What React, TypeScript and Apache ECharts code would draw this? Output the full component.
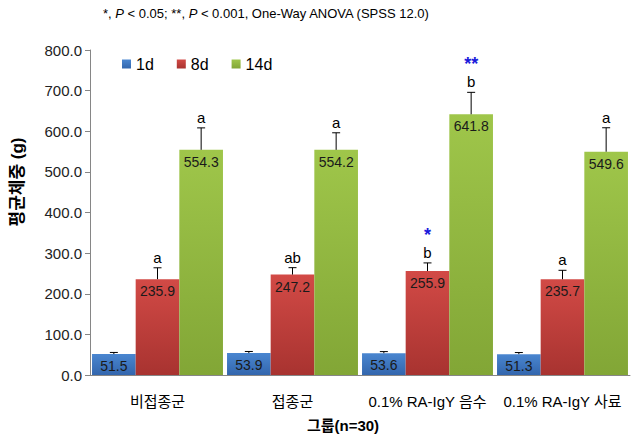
import React, { useEffect, useRef } from "react";
import * as echarts from "echarts";

const categories = ["비접종군", "접종군", "0.1% RA-IgY 음수", "0.1% RA-IgY 사료"];
const seriesNames = ["1d", "8d", "14d"];
const values1d = [51.5, 53.9, 53.6, 51.3];
const values8d = [235.9, 247.2, 255.9, 235.7];
const values14d = [554.3, 554.2, 641.8, 549.6];
const sd1d = [4, 4, 4, 4];
const sd8d = [28, 17, 20, 22];
const sd14d = [54, 42, 54, 59];
const letters1d = ["", "", "", ""];
const letters8d = ["a", "ab", "b", "a"];
const letters14d = ["a", "a", "b", "a"];
const stars1d = ["", "", "", ""];
const stars8d = ["", "", "*", ""];
const stars14d = ["", "", "**", ""];
const yTicks = [0, 100, 200, 300, 400, 500, 600, 700, 800];

const FONT = "'Liberation Sans', Arial, 'Noto Sans CJK KR', sans-serif";
const KFONT = "'Liberation Sans', 'Noto Sans CJK KR', sans-serif";

const colorsTop = ["#4a86d0", "#d24a46", "#9fc64a"];
const colorsBot = ["#3366ad", "#a83330", "#82a636"];

export default function App() {
  const ref = useRef<HTMLDivElement>(null);
  useEffect(() => {
    if (!ref.current) return;
    const chart = echarts.init(ref.current, undefined, { renderer: "svg" });
    const vals = [values1d, values8d, values14d];
    const sds = [sd1d, sd8d, sd14d];
    const lets = [letters1d, letters8d, letters14d];
    const stars = [stars1d, stars8d, stars14d];

    const barSeries = seriesNames.map((name, i) => ({
      name,
      type: "bar",
      data: vals[i],
      barGap: "0%",
      barCategoryGap: "3%",
      itemStyle: {
        color: new echarts.graphic.LinearGradient(0, 0, 0, 1, [
          { offset: 0, color: colorsTop[i] },
          { offset: 1, color: colorsBot[i] },
        ]),
      },
      label: {
        show: true,
        position: "insideTop",
        distance: 5,
        fontSize: 14,
        fontFamily: FONT,
        color: "#1a1a1a",
        formatter: (p: any) => Number(p.value).toFixed(1),
      },
      z: 2,
    }));

    const errSeries = seriesNames.map((name, i) => ({
      name: name + "_err",
      type: "custom",
      z: 5,
      silent: true,
      data: vals[i].map((v, k) => [k, v, sds[i][k]]),
      renderItem: (params: any, api: any) => {
        const k = api.value(0);
        const v = api.value(1);
        const sd = api.value(2);
        const base = api.coord([k, v]);
        const top = api.coord([k, v + sd]);
        const bandW = api.size([1, 0])[0];
        const barW = (bandW * 0.97) / 3;
        const px = base[0] + (i - 1) * barW;
        const children: any[] = [
          {
            type: "line",
            shape: { x1: px, y1: base[1], x2: px, y2: top[1] },
            style: { stroke: "#000", lineWidth: 1 },
          },
          {
            type: "line",
            shape: { x1: px - 4, y1: top[1], x2: px + 4, y2: top[1] },
            style: { stroke: "#000", lineWidth: 1 },
          },
        ];
        const letter = lets[i][params.dataIndex];
        if (letter) {
          children.push({
            type: "text",
            style: {
              x: px,
              y: top[1] - 3,
              text: letter,
              fontSize: 15,
              fontFamily: FONT,
              fill: "#000",
              align: "center",
              verticalAlign: "bottom",
            },
          });
        }
        const st = stars[i][params.dataIndex];
        if (st) {
          children.push({
            type: "text",
            style: {
              x: px,
              y: top[1] - 19,
              text: st,
              fontSize: 18,
              fontWeight: "bold",
              fontFamily: FONT,
              fill: "#1a1adb",
              align: "center",
              verticalAlign: "bottom",
            },
          });
        }
        return { type: "group", children };
      },
    }));

    chart.setOption({
      animation: false,
      backgroundColor: "#ffffff",
      grid: { left: 90, right: 4, top: 50, bottom: 67, containLabel: false },
      legend: {
        data: seriesNames,
        left: 117,
        top: 51,
        icon: "rect",
        itemWidth: 9,
        itemHeight: 9,
        itemGap: 23,
        textStyle: { fontSize: 16, fontFamily: FONT, color: "#000" },
      },
      graphic: [
        {
          type: "text",
          left: 103,
          top: 7,
          style: {
            text: "{n|*, }{i|P}{n| < 0.05; **, }{i|P}{n| < 0.001, One-Way ANOVA (SPSS 12.0)}",
            rich: {
              n: { fontSize: 13, fontFamily: FONT, fill: "#000" },
              i: { fontSize: 13, fontFamily: FONT, fontStyle: "italic", fill: "#000" },
            },
          },
        },
        {
          type: "text",
          x: 343,
          y: 425,
          style: {
            text: "그룹(n=30)",
            fontSize: 15,
            fontWeight: "bold",
            fontFamily: KFONT,
            fill: "#000",
            align: "center",
            verticalAlign: "middle",
          },
        },
        {
          type: "text",
          x: 17,
          y: 182,
          rotation: Math.PI / 2,
          style: {
            text: "평균체중 (g)",
            fontSize: 17,
            fontWeight: "bold",
            fontFamily: KFONT,
            fill: "#000",
            align: "center",
            verticalAlign: "middle",
          },
        },
      ],
      xAxis: {
        type: "category",
        data: categories,
        axisLine: { lineStyle: { color: "#868686" } },
        axisTick: { show: false },
        axisLabel: {
          margin: 19,
          fontSize: 15,
          fontFamily: KFONT,
          color: "#000",
          interval: 0,
        },
      },
      yAxis: {
        type: "value",
        min: yTicks[0],
        max: yTicks[yTicks.length - 1],
        interval: 100,
        axisLine: { show: true, lineStyle: { color: "#868686" } },
        axisTick: { show: true, length: 5, lineStyle: { color: "#868686" } },
        splitLine: { show: false },
        axisLabel: {
          margin: 8,
          fontSize: 15,
          fontFamily: FONT,
          color: "#222",
          formatter: (v: number) => v.toFixed(1),
        },
      },
      series: [...barSeries, ...errSeries],
    });
    return () => chart.dispose();
  }, []);
  return <div ref={ref} style={{ width: 634, height: 442, position: "absolute", left: 0, top: 0 }} />;
}
